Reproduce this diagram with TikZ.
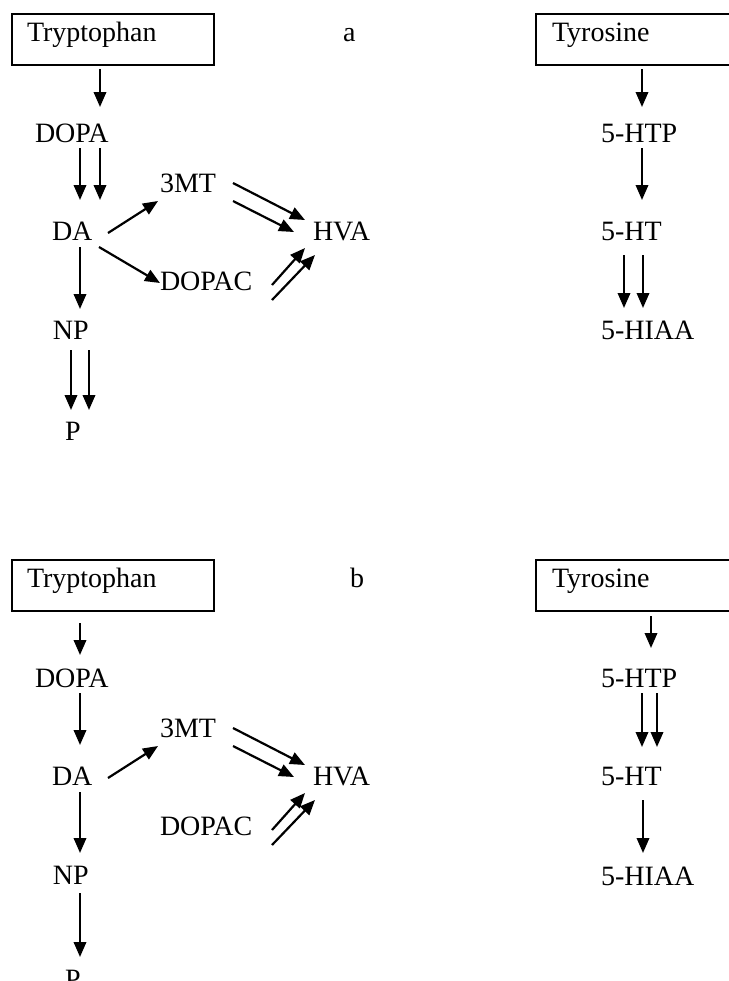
\documentclass[tikz,border=0pt]{standalone}
\usepackage{fontspec}
\setmainfont{Liberation Serif}
\usetikzlibrary{arrows.meta}

\begin{document}
\begin{tikzpicture}[
  x=0.5pt, y=-0.5pt,
  font=\fontsize{14}{16}\selectfont,
  lbl/.style={anchor=base west, inner sep=0pt, outer sep=0pt},
  srcbox/.style={draw, line width=0.6pt, anchor=north west, outer sep=0pt,
    minimum height=25.5pt, inner ysep=0pt, text height=13.5pt, text depth=12pt,
    align=left},
  arr/.style={line width=1.1pt, -{Triangle[length=7.5pt,width=6.2pt]}}
]
\useasboundingbox (0,0) rectangle (729,981);

% ---------------- panel a ----------------
\node[srcbox, minimum width=101pt, inner xsep=7.5pt, text width=86pt] (trpA) at (12,14) {Tryptophan};
\node[srcbox, minimum width=120pt, inner xsep=8pt, text width=104pt] (tyrA) at (536,14) {Tyrosine};
\node[lbl] (labA) at (343,41) {a};

\node[lbl] (dopaA)  at (35,142)  {DOPA};
\node[lbl] (mtA)    at (160,192) {3MT};
\node[lbl] (daA)    at (52,240)  {DA};
\node[lbl] (hvaA)   at (313,240) {HVA};
\node[lbl] (dopacA) at (160,290) {DOPAC};
\node[lbl] (npA)    at (53,339)  {NP};
\node[lbl] (pA)     at (65,440)  {P};

\node[lbl] (htpA)  at (601,142) {5-HTP};
\node[lbl] (htA)   at (601,240) {5-HT};
\node[lbl] (hiaaA) at (601,339) {5-HIAA};

\draw[arr] ([shift={(88,4)}]trpA.south west) -- ([shift={(65,-35)}]dopaA.base west);
\draw[arr] ([shift={(45,6)}]dopaA.base west) -- ([shift={(28,-40)}]daA.base west);
\draw[arr] ([shift={(65,6)}]dopaA.base west) -- ([shift={(48,-40)}]daA.base west);
\draw[arr] ([shift={(56,-7)}]daA.base west) -- ([shift={(-2,9)}]mtA.base west);
\draw[arr] ([shift={(47,7)}]daA.base west) -- ([shift={(0,-7)}]dopacA.base west);
\draw[arr] ([shift={(73,-9)}]mtA.base west) -- ([shift={(-8,-20)}]hvaA.base west);
\draw[arr] ([shift={(73,9)}]mtA.base west) -- ([shift={(-19,-8)}]hvaA.base west);
\draw[arr] ([shift={(112,-5)}]dopacA.base west) -- ([shift={(-8,8)}]hvaA.base west);
\draw[arr] ([shift={(112,10)}]dopacA.base west) -- ([shift={(2,15)}]hvaA.base west);
\draw[arr] ([shift={(28,7)}]daA.base west) -- ([shift={(27,-30)}]npA.base west);
\draw[arr] ([shift={(18,11)}]npA.base west) -- ([shift={(6,-30)}]pA.base west);
\draw[arr] ([shift={(36,11)}]npA.base west) -- ([shift={(24,-30)}]pA.base west);

\draw[arr] ([shift={(106,4)}]tyrA.south west) -- ([shift={(41,-35)}]htpA.base west);
\draw[arr] ([shift={(41,6)}]htpA.base west) -- ([shift={(41,-40)}]htA.base west);
\draw[arr] ([shift={(23,15)}]htA.base west) -- ([shift={(23,-31)}]hiaaA.base west);
\draw[arr] ([shift={(42,15)}]htA.base west) -- ([shift={(42,-31)}]hiaaA.base west);

% ---------------- panel b ----------------
\node[srcbox, minimum width=101pt, inner xsep=7.5pt, text width=86pt] (trpB) at (12,560) {Tryptophan};
\node[srcbox, minimum width=120pt, inner xsep=8pt, text width=104pt] (tyrB) at (536,560) {Tyrosine};
\node[lbl] (labB) at (350,587) {b};

\node[lbl] (dopaB)  at (35,687)  {DOPA};
\node[lbl] (mtB)    at (160,737) {3MT};
\node[lbl] (daB)    at (52,785)  {DA};
\node[lbl] (hvaB)   at (313,785) {HVA};
\node[lbl] (dopacB) at (160,835) {DOPAC};
\node[lbl] (npB)    at (53,884)  {NP};
\node[lbl] (pB)     at (65,988)  {P};

\node[lbl] (htpB)  at (601,687) {5-HTP};
\node[lbl] (htB)   at (601,785) {5-HT};
\node[lbl] (hiaaB) at (601,885) {5-HIAA};

\draw[arr] ([shift={(68,12)}]trpB.south west) -- ([shift={(45,-32)}]dopaB.base west);
\draw[arr] ([shift={(45,6)}]dopaB.base west) -- ([shift={(28,-40)}]daB.base west);
\draw[arr] ([shift={(56,-7)}]daB.base west) -- ([shift={(-2,9)}]mtB.base west);
\draw[arr] ([shift={(73,-9)}]mtB.base west) -- ([shift={(-8,-20)}]hvaB.base west);
\draw[arr] ([shift={(73,9)}]mtB.base west) -- ([shift={(-19,-8)}]hvaB.base west);
\draw[arr] ([shift={(112,-5)}]dopacB.base west) -- ([shift={(-8,8)}]hvaB.base west);
\draw[arr] ([shift={(112,10)}]dopacB.base west) -- ([shift={(2,15)}]hvaB.base west);
\draw[arr] ([shift={(28,7)}]daB.base west) -- ([shift={(27,-31)}]npB.base west);
\draw[arr] ([shift={(27,9)}]npB.base west) -- ([shift={(15,-31)}]pB.base west);

\draw[arr] ([shift={(115,5)}]tyrB.south west) -- ([shift={(50,-39)}]htpB.base west);
\draw[arr] ([shift={(41,6)}]htpB.base west) -- ([shift={(41,-38)}]htB.base west);
\draw[arr] ([shift={(56,6)}]htpB.base west) -- ([shift={(56,-38)}]htB.base west);
\draw[arr] ([shift={(42,15)}]htB.base west) -- ([shift={(42,-32)}]hiaaB.base west);

\end{tikzpicture}
\end{document}
